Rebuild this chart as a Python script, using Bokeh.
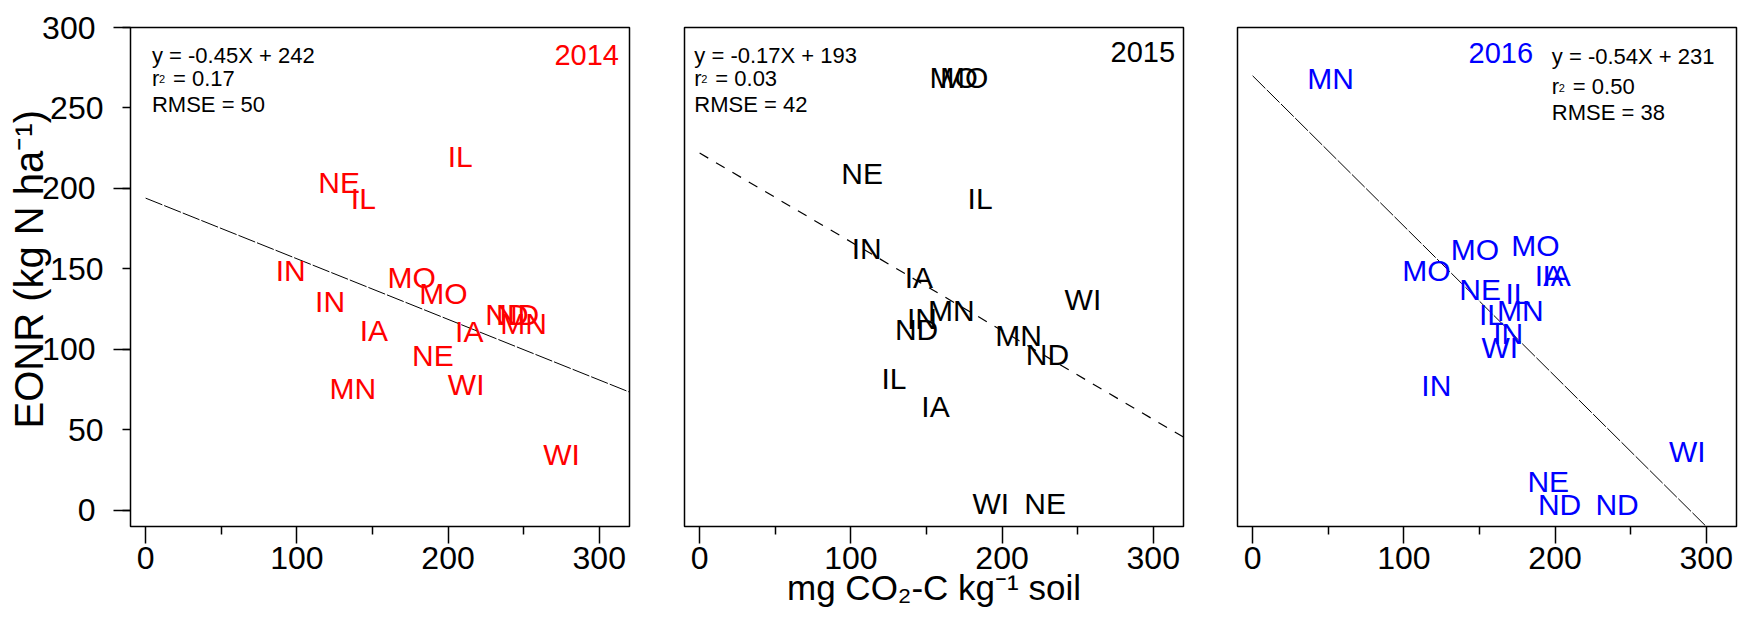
from bokeh.core.properties import value
from bokeh.embed import file_html
from bokeh.layouts import row
from bokeh.models import ColumnDataSource, FixedTicker, Label, Range1d, Title
from bokeh.plotting import figure
from bokeh.resources import INLINE

FONT = "Liberation Sans"

# ---- axis ticks -------------------------------------------------------------
X_TICKS = [0, 100, 200, 300]
X_MINOR = [50, 150, 250]
Y_TICKS = [0, 50, 100, 150, 200, 250, 300]
Y_LONG = [0, 100, 200, 300]

# ---- 2014 -------------------------------------------------------------------
states_2014 = ["IL", "NE", "IL", "IN", "IN", "IA", "MO", "MO",
               "ND", "ND", "MN", "IA", "NE", "MN", "WI", "WI"]
co2_2014 = [208, 128, 144, 96, 122, 151, 176, 197,
            239, 246, 250, 214, 190, 137, 212, 275]
eonr_2014 = [220, 204, 194, 149, 130, 112, 145, 135,
             122, 122, 116, 111, 96, 76, 78, 35]
fit_x_2014 = [0, 320]
fit_y_2014 = [194, 73.5]

# ---- 2015 -------------------------------------------------------------------
states_2015 = ["MO", "MO", "NE", "IL", "IN", "IA", "IN", "MN",
               "ND", "MN", "ND", "WI", "IL", "IA", "WI", "NE"]
co2_2015 = [168, 175, 107.5, 185.5, 110.5, 145, 147, 166.5,
            143.5, 211, 230, 253.5, 128.5, 156, 192.5, 228.5]
eonr_2015 = [269, 269, 209, 194, 163, 145, 119.5, 124,
             112.5, 108.5, 97, 131, 82, 64.5, 4, 4]
fit_x_2015 = [0, 320]
fit_y_2015 = [222, 45.5]

# ---- 2016 -------------------------------------------------------------------
states_2016 = ["MN", "MO", "MO", "MO", "IA", "IA", "NE", "IL", "IL",
               "MN", "IN", "WI", "IN", "WI", "NE", "ND", "ND"]
co2_2016 = [51.5, 115, 147, 187, 196, 201, 150.5, 175.5, 158,
            177, 169, 163.5, 121.5, 287.5, 195.5, 203, 241]
eonr_2016 = [268.5, 149, 162, 164.5, 146, 146, 137.5, 135, 122,
             124, 110, 101.5, 77.5, 36.5, 18, 3.5, 3.5]
fit_x_2016 = [0, 300]
fit_y_2016 = [270, -10]

# ---- fit statistics (annotation text) ----------------------------------------
eq_2014 = ["y = -0.45X + 242", "= 0.17", "RMSE = 50"]
eq_2015 = ["y = -0.17X + 193", "= 0.03", "RMSE = 42"]
eq_2016 = ["y = -0.54X + 231", "= 0.50", "RMSE = 38"]

X_LABEL = "mg CO\u2082-C kg\u207b\u00b9 soil"
Y_LABEL = "EONR (kg N ha\u207b\u00b9)"

X_RANGE = (-10, 320)
Y_RANGE = (-10, 300)

PAD = "\u2005"  # four-per-em space: pushes labels of the long ticks outward


def make_panel(width, left, right, show_y):
    p = figure(width=width, height=625,
               x_range=Range1d(*X_RANGE), y_range=Range1d(*Y_RANGE),
               output_backend="svg", toolbar_location=None,
               y_axis_location="left" if show_y else None,
               min_border_left=left, min_border_right=right,
               min_border_top=27, min_border_bottom=99)
    p.grid.visible = False
    p.background_fill_color = "white"
    p.border_fill_color = "white"
    p.outline_line_color = "black"
    p.outline_line_width = 1.5

    axes = [p.xaxis[0]] + ([p.yaxis[0]] if show_y else [])
    for ax in axes:
        ax.axis_line_color = None
        ax.major_tick_in = 0
        ax.minor_tick_in = 0
        ax.major_tick_line_width = 1.5
        ax.minor_tick_line_width = 1.5
        ax.major_tick_line_color = "black"
        ax.minor_tick_line_color = "black"
        ax.major_label_text_font = FONT
        ax.major_label_text_font_size = "32px"
        ax.major_label_text_color = "black"

    p.xaxis.ticker = FixedTicker(ticks=X_TICKS, minor_ticks=X_MINOR)
    p.xaxis.major_tick_out = 17
    p.xaxis.minor_tick_out = 8
    p.xaxis.major_label_standoff = 3

    if show_y:
        # every 50 is labelled; the hundreds carry a longer tick and sit further out
        p.yaxis.ticker = FixedTicker(ticks=Y_TICKS, minor_ticks=Y_LONG)
        p.yaxis.major_tick_out = 8
        p.yaxis.minor_tick_out = 17
        p.yaxis.major_label_standoff = 10
        p.yaxis.major_label_orientation = "horizontal"
        p.yaxis.major_label_overrides = {v: f"{v}{PAD}" for v in Y_LONG}
    return p


def draw_states(p, xs, ys, names, color):
    src = ColumnDataSource(dict(x=xs, y=ys, t=names))
    p.text(x="x", y="y", text="t", source=src, text_color=color,
           text_font=value(FONT), text_font_size="30px",
           text_align="center", text_baseline="middle")


def draw_fit(p, xs, ys, dash, lw):
    p.line(xs, ys, line_color="black", line_width=lw, line_dash=dash)


def draw_stats(p, x, ys, lines):
    y_eq, y_r, y_rmse = ys
    common = dict(text_font=FONT, text_color="black", text_baseline="middle",
                  text_align="left")
    p.add_layout(Label(x=x, y=y_eq, text=lines[0], text_font_size="22px", **common))
    p.add_layout(Label(x=x, y=y_r, text="r", text_font_size="22px", **common))
    p.add_layout(Label(x=x, y=y_r, x_offset=7, y_offset=-1, text="2",
                       text_font_size="11px", **common))
    p.add_layout(Label(x=x, y=y_r, x_offset=21, text=lines[1],
                       text_font_size="22px", **common))
    p.add_layout(Label(x=x, y=y_rmse, text=lines[2], text_font_size="22px", **common))


def year_label(p, x, y, text, color, align):
    p.add_layout(Label(x=x, y=y, text=text, text_font=FONT, text_font_size="29px",
                       text_color=color, text_align=align, text_baseline="middle"))


# ---- panel 2014 --------------------------------------------------------------
p1 = make_panel(656, 130, 27, True)
draw_fit(p1, fit_x_2014, fit_y_2014, "18 2", 1)
draw_states(p1, co2_2014, eonr_2014, states_2014, "#ff0000")
draw_stats(p1, 4.2, (282.3, 268.6, 252.2), eq_2014)
year_label(p1, 313, 283.2, "2014", "#ff0000", "right")
p1.add_layout(Title(text=Y_LABEL, align="left", offset=98, standoff=-22,
                    text_font=FONT, text_font_size="40px",
                    text_font_style="normal", text_color="black"), "left")

# ---- panel 2015 --------------------------------------------------------------
p2 = make_panel(554, 28, 27, False)
draw_fit(p2, fit_x_2015, fit_y_2015, "10 9", 1.2)
draw_states(p2, co2_2015, eonr_2015, states_2015, "black")
draw_stats(p2, -3.5, (282.3, 268.6, 252.2), eq_2015)
year_label(p2, 314.4, 284.5, "2015", "black", "right")
p2.xaxis.axis_label = X_LABEL
p2.xaxis.axis_label_text_font = FONT
p2.xaxis.axis_label_text_font_size = "35px"
p2.xaxis.axis_label_text_font_style = "normal"
p2.xaxis.axis_label_text_color = "black"
p2.xaxis.axis_label_text_line_height = 1.0
p2.xaxis.major_label_text_line_height = 1.0
p2.xaxis.axis_label_standoff = -4

# ---- panel 2016 --------------------------------------------------------------
p3 = make_panel(535, 27, 9, False)
draw_fit(p3, fit_x_2016, fit_y_2016, "18 2", 1)
draw_states(p3, co2_2016, eonr_2016, states_2016, "#0000ff")
draw_stats(p3, 197.9, (282, 263.3, 247.2), eq_2016)
year_label(p3, 164.1, 283.9, "2016", "#0000ff", "center")

layout = row(p1, p2, p3)
open("out.html", "w").write(file_html(layout, INLINE))
